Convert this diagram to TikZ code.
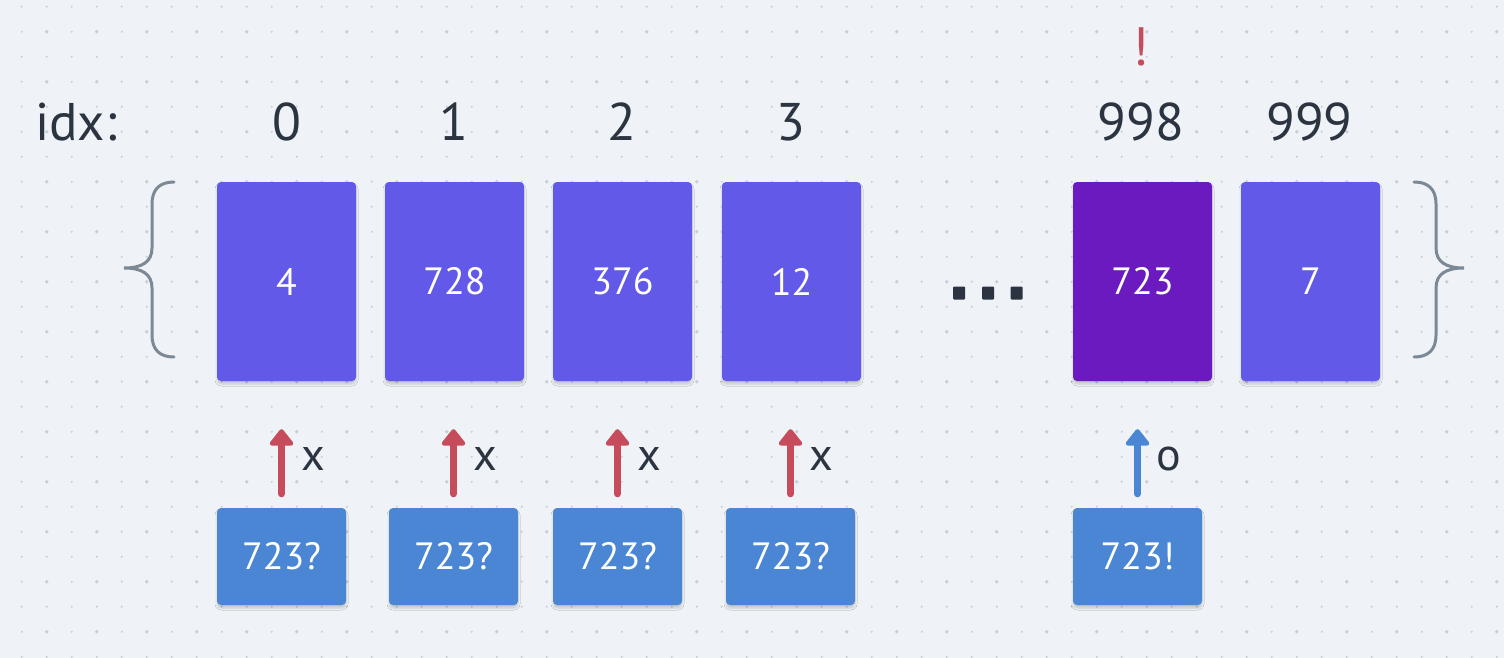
\documentclass[tikz,border=0pt]{standalone}
\usepackage{fontspec}
\setmainfont{PT Sans}
\usetikzlibrary{arrows.meta,shadows.blur}
\definecolor{bg}{HTML}{EFF3F7}
\definecolor{dotc}{HTML}{C7CED8}
\definecolor{ink}{HTML}{2B3440}
\definecolor{indigo}{HTML}{6359E9}
\definecolor{purp}{HTML}{6A1ABE}
\definecolor{bluec}{HTML}{4A86D4}
\definecolor{redc}{HTML}{C64B5B}
\definecolor{bracec}{HTML}{7D8895}
\begin{document}
\begin{tikzpicture}[x=1pt,y=-1pt,
  bigbox/.style={rounded corners=4pt, minimum width=139pt, minimum height=199pt, inner sep=0pt,
     text=white, font=\fontsize{38}{40}\selectfont,
     blur shadow={shadow blur steps=6, shadow xshift=0pt, shadow yshift=-3pt, shadow opacity=18}},
  smallbox/.style={rounded corners=4pt, minimum width=129pt, minimum height=97pt, inner sep=0pt,
     fill=bluec, text=white, font=\fontsize{38}{40}\selectfont,
     blur shadow={shadow blur steps=6, shadow xshift=0pt, shadow yshift=-3pt, shadow opacity=18}},
  idxlab/.style={anchor=base, text=ink, font=\fontsize{53}{55}\selectfont},
  marklab/.style={text=ink, font=\fontsize{46}{48}\selectfont},
  arr/.style={line width=7pt, line cap=round, -{Triangle[width=27pt,length=18pt,round]},
     shorten <=14pt, shorten >=48pt},
  bracestyle/.style={draw=bracec, line width=3pt, line cap=round}
]
\useasboundingbox (0,0) rectangle (1504,658);
\fill[bg] (0,0) rectangle (1504,658);
% dot grid
\foreach \i in {0,...,59}{
  \foreach \j in {0,...,26}{
    \pgfmathtruncatemacro{\big}{and(isodd(\i),isodd(\j))}
    \ifnum\big=1
      \fill[dotc] (21.7+25*\i,6.7+25*\j) circle (1.9pt);
    \else
      \fill[dotc] (21.7+25*\i,6.7+25*\j) circle (1.1pt);
    \fi
  }
}
% index labels
\node[idxlab] (lidx) at (76,140) {idx:};
\node[idxlab] (l0) at (286.5,140) {0};
\node[idxlab] (l1) at (454,140) {1};
\node[idxlab] (l2) at (622,140) {2};
\node[idxlab] (l3) at (791,140) {3};
\node[idxlab] (l998) at (1141,140) {998};
\node[idxlab] (l999) at (1309.5,140) {999};
\node[anchor=base, text=redc, font=\fontsize{54}{56}\selectfont] (bang) at (1141,66) {!};
% big boxes
\node[bigbox, fill=indigo] (b0) at (286.5,281.5) {4};
\node[bigbox, fill=indigo] (b1) at (454.5,281.5) {728};
\node[bigbox, fill=indigo] (b2) at (622.5,281.5) {376};
\node[bigbox, fill=indigo] (b3) at (791.5,281.5) {12};
\node[bigbox, fill=purp] (b998) at (1142.5,281.5) {723};
\node[bigbox, fill=indigo] (b999) at (1310.5,281.5) {7};
% ellipsis
\foreach \cx in {959,988,1016.5}{
  \fill[ink, rounded corners=1pt] (\cx-6,286.5) rectangle (\cx+6,299.5);
}
% braces
\draw[bracestyle] (174,182) .. controls (160,182) and (152,189) .. (152,204) -- (152,248)
  .. controls (152,262) and (142,268) .. (124,268)
  .. controls (142,268) and (152,274) .. (152,288) -- (152,335)
  .. controls (152,350) and (160,357) .. (174,357);
\draw[bracestyle] (1414,182) .. controls (1428,182) and (1436,189) .. (1436,204) -- (1436,248)
  .. controls (1436,262) and (1446,268) .. (1464,268)
  .. controls (1446,268) and (1436,274) .. (1436,288) -- (1436,335)
  .. controls (1436,350) and (1428,357) .. (1414,357);
% small boxes
\node[smallbox] (s0) at (281.5,556.5) {723?};
\node[smallbox] (s1) at (453.5,556.5) {723?};
\node[smallbox] (s2) at (617.5,556.5) {723?};
\node[smallbox] (s3) at (790.5,556.5) {723?};
\node[smallbox] (s998) at (1137.5,556.5) {723!};
% arrows
\draw[arr, redc] (s0.north) -- (s0.north |- b0.south);
\draw[arr, redc] (s1.north) -- (s1.north |- b1.south);
\draw[arr, redc] (s2.north) -- (s2.north |- b2.south);
\draw[arr, redc] (s3.north) -- (s3.north |- b3.south);
\draw[arr, bluec] (s998.north) -- (s998.north |- b998.south);
% marks
\node[marklab] (m0) at (313,459) {x};
\node[marklab] (m1) at (485,459) {x};
\node[marklab] (m2) at (649,459) {x};
\node[marklab] (m3) at (821,459) {x};
\node[marklab] (m998) at (1169,459) {o};
\end{tikzpicture}
\end{document}
